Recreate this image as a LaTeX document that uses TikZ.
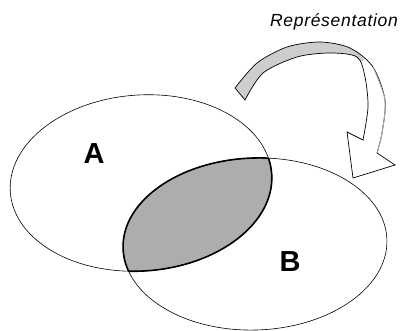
\documentclass[tikz,border=0pt]{standalone}
\usepackage{fontspec}
\setmainfont{Liberation Sans}
\usetikzlibrary{positioning,calc}
\definecolor{lensgray}{HTML}{ADADAD}
\definecolor{bandgray}{HTML}{CDCDCD}
\definecolor{edgegray}{HTML}{A8A8A8}
\newcommand{\bandpath}{(235,88) -- plot[smooth] coordinates {(235,88) (257,63) (287,47) (320,42) (350,48) (373,67) (385,100) (382,133) (377,153)}
  -- (395,165) -- (353,178) -- (347,132)
  -- plot[smooth] coordinates {(363,140) (368,107) (365,77) (357,57) (330,53) (297,57) (263,73) (245,100)} -- cycle}

\begin{document}
\begin{tikzpicture}[x=1pt, y=-1pt,
  setline/.style={draw=black, line width=0.6pt},
  setlabel/.style={font=\bfseries\fontsize{29}{29}\selectfont}]
  \useasboundingbox (0,0) rectangle (404,331);
  \coordinate (CA) at (141,183);
  \coordinate (CB) at (255,244);
  % shaded intersection
  \begin{scope}
    \clip[rotate around={4:(CA)}] (CA) ellipse [x radius=131pt, y radius=88pt];
    \fill[lensgray, rotate around={2:(CB)}] (CB) ellipse [x radius=132pt, y radius=86pt];
    \draw[line width=1.6pt, rotate around={2:(CB)}] (CB) ellipse [x radius=132pt, y radius=86pt];
  \end{scope}
  \begin{scope}
    \clip[rotate around={2:(CB)}] (CB) ellipse [x radius=132pt, y radius=86pt];
    \draw[line width=1.6pt, rotate around={4:(CA)}] (CA) ellipse [x radius=131pt, y radius=88pt];
  \end{scope}
  \draw[setline, rotate around={4:(CA)}] (CA) ellipse [x radius=131pt, y radius=88pt];
  \draw[setline, rotate around={2:(CB)}] (CB) ellipse [x radius=132pt, y radius=86pt];
  \node[setlabel] (labelA) at (94,154) {A};
  \node[setlabel] (labelB) at (290,262) {B};
  % curved arrow
  \begin{scope}
    \clip \bandpath;
    \fill[white] (200,30) rectangle (404,200);
    \fill[bandgray] (200,30) -- (352,36) -- (364,60) -- (300,120) -- (200,120) -- cycle;
  \end{scope}
  \draw[line width=0.7pt] \bandpath;
  \draw[edgegray, line width=0.9pt] plot[smooth] coordinates {(373,67) (385,100) (382,133) (377,153)};
  \node[font=\itshape\fontsize{17.5}{18}\selectfont\addfontfeatures{LetterSpace=4}] (title) at (334,22) {Représentation};
\end{tikzpicture}
\end{document}
